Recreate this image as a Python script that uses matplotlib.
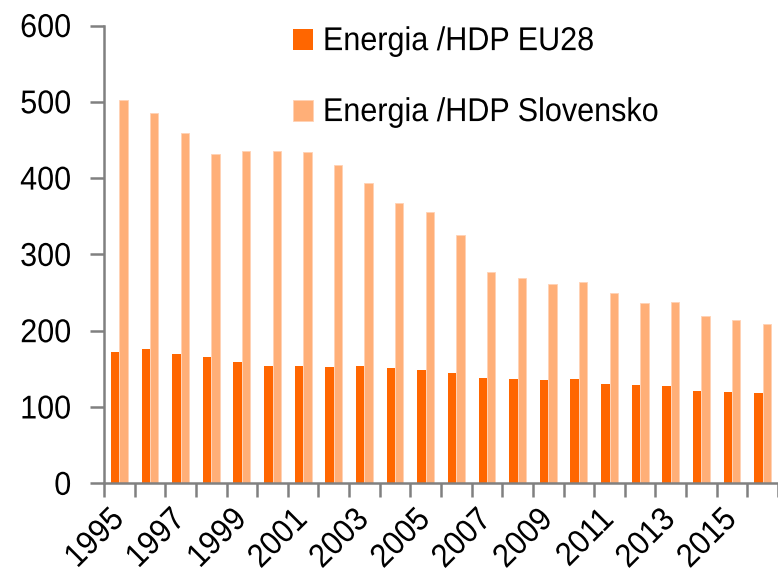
import matplotlib.pyplot as plt
import matplotlib.patheffects as pe
from matplotlib.transforms import Affine2D
import numpy as np

plt.rcParams['font.family'] = ['Liberation Sans', 'DejaVu Sans']

# roky a hodnoty (odčítané z grafu)
years = list(range(1995, 2017))
eu28 = [172, 176, 169, 165, 159, 154, 154, 152, 154, 151, 149,
        145, 138, 137, 135, 137, 130, 129, 127, 121, 120, 118]
slovensko = [503, 485, 459, 432, 435, 436, 434, 417, 393, 368, 355,
             325, 277, 269, 261, 264, 250, 236, 237, 219, 214, 209]

c_eu = '#FF6600'
c_sk = '#FFAF78'
gray = '#808080'
fs = 22


class Stretch(pe.AbstractPathEffect):
    # písmo v origináli je trochu vyššie (natiahnuté zvislo)
    def __init__(self, sy):
        super().__init__()
        self.sy = sy

    def draw_path(self, renderer, gc, tpath, affine, rgbFace=None):
        renderer.draw_path(gc, tpath, Affine2D().scale(1, self.sy) + affine, rgbFace)


stretch = [Stretch(1.08)]

fig = plt.figure(figsize=(7.78, 5.77), dpi=100)
ax = fig.add_axes([0.1337, 0.1624, 0.8663, 0.7934])

x = np.arange(len(years))
bw = 0.275
ax.bar(x - bw / 2, eu28, bw, color=c_eu, label='Energia /HDP EU28')
ax.bar(x + bw / 2, slovensko, bw, color=c_sk, edgecolor='#FFD2B4', linewidth=0.6,
       label='Energia /HDP Slovensko')

ax.set_ylim(0, 600)
ax.set_xlim(-0.5, 21.24)
ax.set_yticks(range(0, 601, 100))

# hranice kategórií ako hlavné značky, popisky na stredoch
ax.set_xticks(np.arange(len(years) + 1) - 0.5)
ax.set_xticklabels([])
ax.set_xticks(x[::2], minor=True)
ax.set_xticklabels([str(y) for y in years[::2]], minor=True, rotation=45,
                   ha='right', va='center', fontsize=fs)
for t in ax.get_xticklabels(minor=True):
    t.set_rotation_mode('anchor')
ax.tick_params(axis='x', which='minor', length=0, pad=23)
ax.tick_params(axis='x', which='major', length=10, width=1.8, color=gray)
ax.tick_params(axis='y', length=10, width=1.8, color=gray, labelsize=fs, pad=13.5)

for s in ['top', 'right']:
    ax.spines[s].set_visible(False)
for s in ['left', 'bottom']:
    ax.spines[s].set_color(gray)
    ax.spines[s].set_linewidth(1.8)

leg = ax.legend(loc='upper left', bbox_to_anchor=(0.3766, 0.953),
                bbox_transform=fig.transFigure, frameon=False, borderpad=0,
                borderaxespad=0, fontsize=fs, handlelength=0.65, handleheight=0.65,
                handletextpad=0.33, labelspacing=1.34)

for t in ax.get_xticklabels(minor=True) + ax.get_yticklabels() + leg.get_texts():
    t.set_path_effects(stretch)

fig.savefig('out.png', dpi=100)
